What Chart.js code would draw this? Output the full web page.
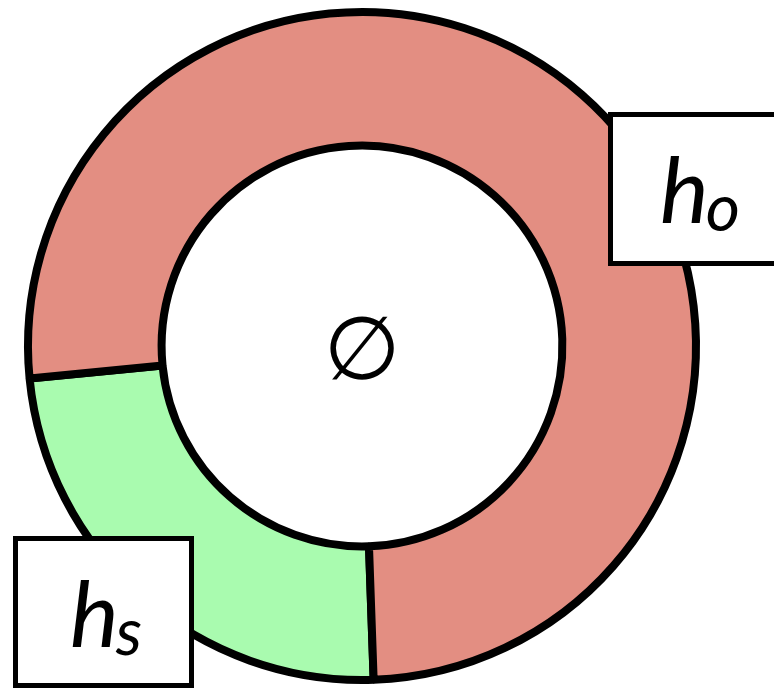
<!DOCTYPE html>
<html>
<head>
<meta charset="utf-8">
<script src="https://cdn.jsdelivr.net/npm/chart.js@4/dist/chart.umd.min.js"></script>
<style>
  body { margin: 0; background: #fff; }
</style>
</head>
<body>
<canvas id="ring" width="774" height="689"></canvas>
<script>
// the two parts of the ring, going clockwise from the bottom
let labels = ['h_s', 'h_o']
let values = [24, 76]
let colors = ['#a9fbaf', '#e38e82']
let centerLabel = '\u2205'

// where the label boxes sit (box x, y, w, h, text x, baseline)
let boxes = {
    'h_s': [15.5, 538.5, 176, 147, 70, 647],
    'h_o': [610.5, 114.5, 200, 149, 660, 223]
}

const labelPlugin = {
    id: 'labelBoxes',
    afterDraw(chart) {
        const ctx = chart.ctx
        const arc = chart.getDatasetMeta(0).data[0]
        ctx.save()
        // empty set symbol in the hole
        ctx.fillStyle = '#000'
        ctx.textAlign = 'center'
        ctx.textBaseline = 'middle'
        ctx.font = '88px "DejaVu Sans"'
        ctx.fillText(centerLabel, arc.x, arc.y + 10)

        ctx.textAlign = 'left'
        ctx.textBaseline = 'alphabetic'
        for (let i = 0; i < labels.length; i++) {
            let b = boxes[labels[i]]
            ctx.fillStyle = '#fff'
            ctx.fillRect(b[0], b[1], b[2], b[3])
            ctx.lineWidth = 5
            ctx.strokeStyle = '#000'
            ctx.strokeRect(b[0], b[1], b[2], b[3])
            let parts = labels[i].split('_')
            ctx.fillStyle = '#000'
            ctx.font = 'italic 92px Lato'
            ctx.fillText(parts[0], b[4], b[5])
            let w = ctx.measureText(parts[0]).width
            ctx.font = 'italic 66px Lato'
            ctx.fillText(parts[1], b[4] + w - 3, b[5] + 8)
        }
        ctx.restore()
    }
}

const config = {
    type: 'doughnut',
    data: {
        labels: labels,
        datasets: [{
            data: values,
            backgroundColor: colors,
            borderColor: '#000',
            borderWidth: 8
        }]
    },
    options: {
        responsive: false,
        animation: false,
        rotation: 178,
        cutout: '60%',
        layout: {
            padding: { left: 24, right: 74, top: 8, bottom: 5 }
        },
        plugins: {
            legend: { display: false },
            tooltip: { enabled: false }
        }
    },
    plugins: [labelPlugin]
}
let ring = new Chart(document.getElementById('ring'), config)
</script>
</body>
</html>
